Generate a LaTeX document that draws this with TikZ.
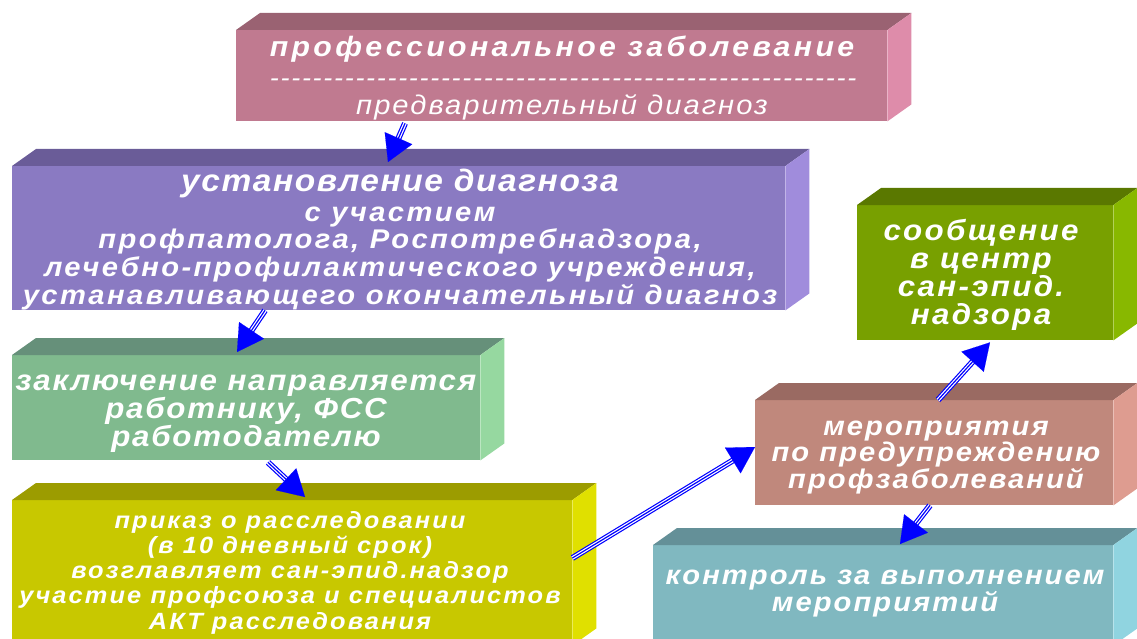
\documentclass[tikz,border=0pt]{standalone}
\usepackage{fontspec}
\setmainfont{Liberation Sans}
\usetikzlibrary{calc,arrows.meta}
\definecolor{pinkF}{HTML}{C07A90}\definecolor{pinkT}{HTML}{9A6272}\definecolor{pinkS}{HTML}{DE8CAA}
\definecolor{purF}{HTML}{8A7AC2}\definecolor{purT}{HTML}{6A5C98}\definecolor{purS}{HTML}{A08CDC}
\definecolor{grnF}{HTML}{80BA8E}\definecolor{grnT}{HTML}{66907A}\definecolor{grnS}{HTML}{96D8A0}
\definecolor{yelF}{HTML}{C8C800}\definecolor{yelT}{HTML}{9C9C00}\definecolor{yelS}{HTML}{E0E000}
\definecolor{olvF}{HTML}{78A000}\definecolor{olvT}{HTML}{5A7800}\definecolor{olvS}{HTML}{88B800}
\definecolor{rosF}{HTML}{C0887C}\definecolor{rosT}{HTML}{9A6A62}\definecolor{rosS}{HTML}{DE9C90}
\definecolor{tealF}{HTML}{80B8C0}\definecolor{tealT}{HTML}{649098}\definecolor{tealS}{HTML}{90D4E0}
\newcommand\tfont[3]{\fontsize{#1}{#1}\selectfont#3\addfontfeature{FakeStretch=1.08,LetterSpace=#2}}
\tikzset{
  box/.style={anchor=north west, inner sep=0pt},
  txt/.style={text=white, inner sep=0pt, anchor=base},
}
\newcommand\cube[4]{% node, front, top, side
  \fill[#3] (#1.north west) -- ++(24,-17) -- ($(#1.north east)+(24,-17)$) -- (#1.north east) -- cycle;
  \fill[#4] (#1.north east) -- ++(24,-17) -- ($(#1.south east)+(24,-17)$) -- (#1.south east) -- cycle;
}
\begin{document}
\begin{tikzpicture}[x=1pt,y=-1pt]
\useasboundingbox (0,0) rectangle (1137,639);
\clip (0,0) rectangle (1137,639);
% box 1
\node[box, fill=pinkF, minimum width=651, minimum height=91] (b1) at (236,30) {};
\cube{b1}{pinkF}{pinkT}{pinkS}
\node[txt, font=\tfont{28}{12}{\bfseries\itshape}] (t1a) at (562,57) {профессиональное заболевание};
\node[txt, font=\tfont{25}{0}{\itshape}] (t1b) at (564,87) {\foreach \k in {1,...,55}{-\kern1.7pt}};
\node[txt, font=\tfont{27}{7.5}{\itshape}] (t1c) at (562,115) {предварительный диагноз};
% box 2
\node[box, fill=purF, minimum width=773, minimum height=144] (b2) at (12,166) {};
\cube{b2}{purF}{purT}{purS}
\node[txt, font=\tfont{31}{5}{\bfseries\itshape}] (t2a) at (400,192) {установление диагноза};
\foreach \s [count=\i] in {с участием, {профпатолога, Роспотребнадзора,}, {лечебно-профилактического учреждения,}, устанавливающего окончательный диагноз}
  \node[txt, font=\tfont{27}{9}{\bfseries\itshape}] (t2-\i) at (400,{221+27.7*(\i-1)}) {\s};
% box 3
\node[box, fill=grnF, minimum width=468, minimum height=105] (b3) at (12,355) {};
\cube{b3}{grnF}{grnT}{grnS}
\foreach \s [count=\i] in {заключение направляется, {работнику, ФСС}, работодателю}
  \node[txt, font=\tfont{29}{6}{\bfseries\itshape}] (t3-\i) at (246,{390+28*(\i-1)}) {\s};
% box 4
\node[box, fill=yelF, minimum width=560, minimum height=145] (b4) at (12,500) {};
\cube{b4}{yelF}{yelT}{yelS}
\foreach \s [count=\i] in {приказ о расследовании, (в 10 дневный срок), возглавляет сан-эпид.надзор, участие профсоюза и специалистов, АКТ расследования}
  \node[txt, font=\tfont{23.5}{9}{\bfseries\itshape}] (t4-\i) at (290,{528+25.3*(\i-1)}) {\s};
% box 5
\node[box, fill=olvF, minimum width=256, minimum height=135] (b5) at (857,205) {};
\cube{b5}{olvF}{olvT}{olvS}
\foreach \s [count=\i] in {сообщение, в центр, сан-эпид., надзора}
  \node[txt, font=\tfont{29}{8}{\bfseries\itshape}] (t5-\i) at (981,{240+28.3*(\i-1)}) {\s};
% box 6
\node[box, fill=rosF, minimum width=358, minimum height=105] (b6) at (755,400) {};
\cube{b6}{rosF}{rosT}{rosS}
\foreach \s [count=\i] in {мероприятия, по предупреждению, профзаболеваний}
  \node[txt, font=\tfont{27}{7.6}{\bfseries\itshape}] (t6-\i) at (936,{435+26.5*(\i-1)}) {\s};
% box 7
\node[box, fill=tealF, minimum width=460, minimum height=100] (b7) at (653,545) {};
\cube{b7}{tealF}{tealT}{tealS}
\foreach \s [count=\i] in {контроль за выполнением, мероприятий}
  \node[txt, font=\tfont{27}{7.6}{\bfseries\itshape}] (t7-\i) at (885,{584+27.5*(\i-1)}) {\s};

% connector endpoints
\coordinate (a1s) at ($(b1.south west)+(169,2)$);
\coordinate (a1e) at ($(b2.north west)+(376,-4)$);
\coordinate (a2s) at ($(b2.south west)+(253,0)$);
\coordinate (a2e) at ($(b3.north west)+(225,-3)$);
\coordinate (a3s) at ($(b3.south west)+(256,2)$);
\coordinate (a3e) at ($(b4.north west)+(293,-3)$);
\coordinate (a4s) at ($(b4.north east)+(0,58)$);
\coordinate (a4e) at ($(b6.north west)+(0,47)$);
\coordinate (a5s) at ($(b6.north west)+(183,0)$);
\coordinate (a5e) at ($(b5.south west)+(133,2)$);
\coordinate (a6s) at ($(b6.south west)+(175,0)$);
\coordinate (a6e) at ($(b7.north west)+(247,-1)$);
\foreach \s/\e in {a1s/a1e,a2s/a2e,a3s/a3e,a4s/a4e,a5s/a5e,a6s/a6e}{
  \draw[blue, line width=6pt, shorten >=18pt] (\s) -- (\e);
  \draw[white, line width=3.6pt, shorten >=18pt] (\s) -- (\e);
  \draw[blue, line width=1.2pt, shorten >=18pt] (\s) -- (\e);
  \draw[blue, line width=0.1pt, -{Triangle[length=26pt,width=30pt]}] ($(\e)!26pt!(\s)$) -- (\e);
}
\end{tikzpicture}
\end{document}
